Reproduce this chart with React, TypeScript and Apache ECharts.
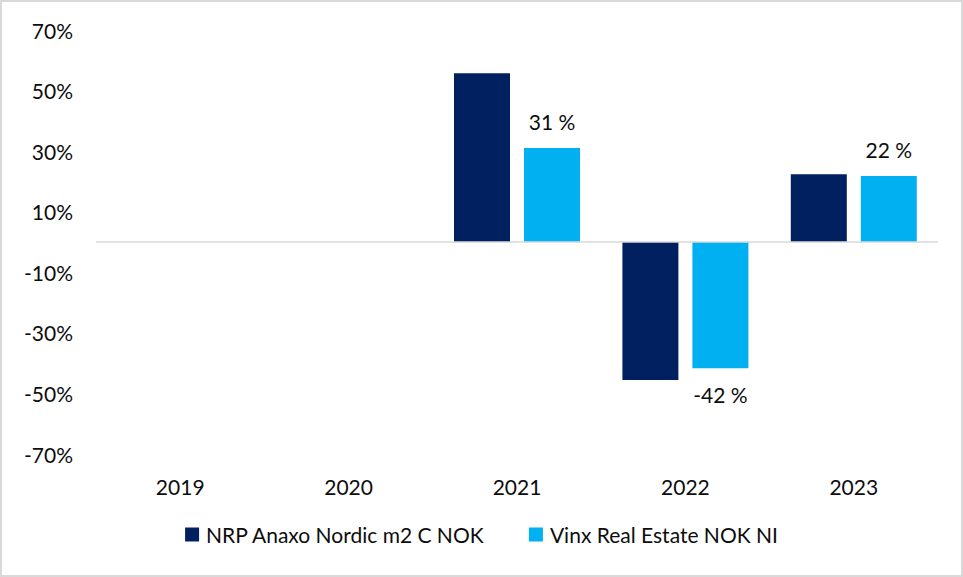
import React, { useEffect, useRef } from "react";
import * as echarts from "echarts";

const categories = ["2019", "2020", "2021", "2022", "2023"];
const nrpValues: (number | null)[] = [null, null, 55.7, -45.6, 22.4];
const vinxValues: (number | null)[] = [null, null, 31.0, -41.7, 21.8];
const yTicks = [-70, -50, -30, -10, 10, 30, 50, 70];
const seriesNames = ["NRP Anaxo Nordic m2 C NOK", "Vinx Real Estate NOK NI"];

const FONT = "Lato, 'Noto Sans', sans-serif";
const TEXT = "#0d0d0d";
const FS = 21;

export default function App() {
  const ref = useRef<HTMLDivElement>(null);
  useEffect(() => {
    document.body.style.margin = "0";
    if (!ref.current) return;
    const chart = echarts.init(ref.current, null, { renderer: "svg" });
    chart.setOption({
      animation: false,
      textStyle: { fontFamily: FONT },
      grid: { left: 96, right: 25, top: 30, bottom: 123 },
      legend: {
        bottom: 27,
        left: "center",
        itemWidth: 14,
        itemHeight: 14,
        itemGap: 44,
        icon: "rect",
        textStyle: { fontFamily: FONT, fontSize: FS, color: TEXT, padding: [0, 0, 0, 2] },
        data: seriesNames,
      },
      xAxis: {
        type: "category",
        data: categories,
        position: "bottom",
        axisLine: { show: false, onZero: false },
        axisTick: { show: false },
        axisLabel: { fontFamily: FONT, fontSize: FS, color: TEXT, margin: 22 },
      },
      yAxis: {
        type: "value",
        min: -70,
        max: 70,
        axisLine: { show: false },
        axisTick: { show: false },
        splitLine: { show: false },
        axisLabel: {
          customValues: yTicks,
          fontFamily: FONT,
          fontSize: FS,
          color: TEXT,
          margin: 23,
          formatter: (v: number) => `${v}%`,
        },
      },
      series: [
        {
          name: seriesNames[0],
          type: "bar",
          data: nrpValues,
          barWidth: 56,
          barGap: "25%",
          itemStyle: { color: "#002060" },
          markLine: {
            silent: true,
            symbol: "none",
            label: { show: false },
            lineStyle: { color: "#d9d9d9", width: 1.5, type: "solid" },
            data: [{ yAxis: 0 }],
          },
        },
        {
          name: seriesNames[1],
          type: "bar",
          barWidth: 56,
          barGap: "25%",
          itemStyle: { color: "#00B0F0" },
          data: vinxValues.map((v) =>
            v === null
              ? null
              : {
                  value: v,
                  label: {
                    show: true,
                    position: v < 0 ? "bottom" : "top",
                    distance: 16,
                    fontFamily: FONT,
                    fontSize: FS,
                    color: TEXT,
                    formatter: () => `${Math.round(v)} %`,
                  },
                }
          ),
        },
      ],
    });
    return () => chart.dispose();
  }, []);
  return (
    <div style={{ position: "relative", width: 963, height: 577 }}>
      <div ref={ref} style={{ width: 963, height: 577 }} />
      <div
        style={{
          position: "absolute",
          left: 0,
          top: 0,
          width: 963,
          height: 577,
          boxSizing: "border-box",
          border: "2px solid #d9d9d9",
          pointerEvents: "none",
        }}
      />
    </div>
  );
}
